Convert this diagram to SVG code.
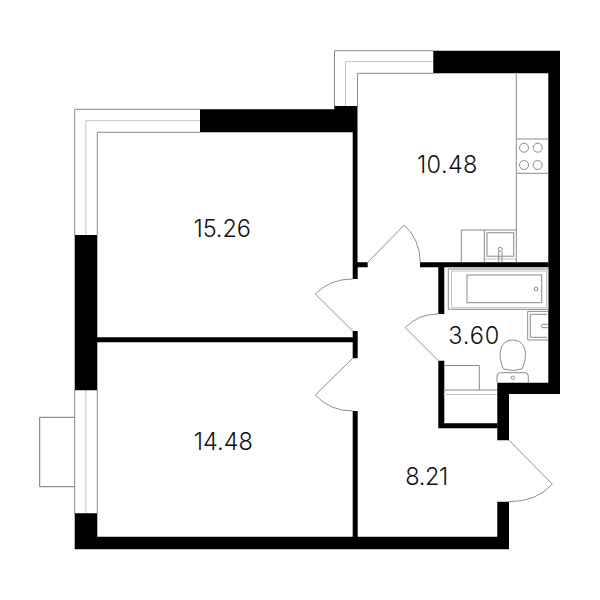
<svg xmlns="http://www.w3.org/2000/svg" width="600" height="600" viewBox="0 0 600 600">
<style>
.w{fill:#000;stroke:none}
.g{fill:none;stroke:#8a8a8a;stroke-width:1}
.d{fill:none;stroke:#8f8f8f;stroke-width:1}
.l{fill:none;stroke:#c4c4c4;stroke-width:1}
text{font-family:"Inter","Liberation Sans",sans-serif;font-size:23.5px;font-weight:300;fill:#111;text-anchor:middle}
</style>
<rect width="600" height="600" fill="#fff"/>
<g id="windows">
<path class="g" d="M334.5 106V50.7H433.5M357.5 106V73.3H433.5"/>
<path class="l" d="M345.5 106V61.7H433.5"/>
<path class="g" d="M74.7 235V109.3H200M97.3 235V132.3H200"/>
<path class="l" d="M85.9 235V120.7H200"/>
<path class="g" d="M74.7 390V513.5M97.3 390V513.5"/>
<path class="l" d="M85.9 390V513.5"/>
</g>
<g id="balcony"><path fill="none" stroke="#777" stroke-width="1" d="M74.7 417.3H39.7V486.7H74.7"/></g>
<g id="walls">
<path class="w" d="M433.3 50.7H560V394H509V440.3H497.3V382.7H548.3V73.3H433.3Z"/>
<path class="w" d="M200 109.3H334.3V106H357.5V262.3H367.7V267.3H357.7V279H352.7V132.3H200Z"/>
<path class="w" d="M420 262.3H548.5V267.3H444.3V314H438.3V267.3H420Z"/>
<path class="w" d="M438.3 360.7H444.3V423.3H497.5V428.3H438.3Z"/>
<path class="w" d="M74.7 235H97.3V390.3H74.7Z"/>
<path class="w" d="M97 337.3H352.7V331H357.7V358.3H352.7V342.3H97Z"/>
<path class="w" d="M352.7 411H357.7V536.7H497.3V501.7H509V549.3H74.7V513.3H97.3V536.7H352.7Z"/>
</g>
<g id="doors">
<path class="d" d="M368 262L404.3 225Q420 240 420.3 262.3"/>
<path class="d" d="M352.7 331L315.3 294Q330 279 352.7 279"/>
<path class="d" d="M352.7 358.3L315.3 395Q330 411 352.7 411"/>
<path class="d" d="M438.3 360.7L405.3 327.7Q418 314 438.3 314"/>
<path class="d" d="M509 440.3L552.3 484Q537 501.7 509 501.7"/>
</g>
<g id="kitchen">
<path class="g" d="M516.3 73.3V262M516.3 139H548.3M516.3 173.3H548.3"/>
<circle class="g" cx="524" cy="147.7" r="4.5"/><circle class="g" cx="537.7" cy="147.7" r="4.5"/>
<circle class="g" cx="524" cy="165" r="4.5"/><circle class="g" cx="537.7" cy="165" r="4.5"/>
<path class="g" d="M461.3 262V230H516.3M484.3 230V262"/>
<rect class="g" x="487" y="232.700" width="26.700" height="23.500"/>
<path class="l" d="M484.3 259H516.3"/>
<path class="g" d="M498.7 251.500V262M502 251.500V262"/>
<circle class="g" cx="500.3" cy="249.3" r="2"/>
</g>
<g id="bathroom">
<rect class="g" x="448.3" y="269" width="100" height="40.300"/>
<rect class="l" x="451.500" y="271" width="95" height="36.700"/>
<rect class="g" x="467" y="275" width="74.700" height="27.700"/>
<circle class="g" cx="536" cy="289" r="1.8"/>
<path class="g" d="M548 311.3H527.7V340H548"/>
<path class="g" d="M547 314.3H530.3V337.3H547"/>
<path class="g" d="M548 324.3H542Q541 326 542 327.7H548"/>
<path class="g" d="M503.5 369C498 358 498 340 512.7 340C527.5 340 527.5 358 522 369Q512.7 372 503.5 369Z"/>
<path class="g" d="M497 382.7V376Q497 372.7 500.5 372.7H525Q528.3 372.7 528.3 376V382.7"/>
<circle class="g" cx="512.7" cy="377.7" r="1.6"/>
<path class="g" d="M479.3 390V365.500H444.3"/>
<path class="g" d="M443.500 390H497"/>
<path class="l" d="M443.500 394.500H497"/>
</g>
<g id="labels">
<text x="447.200" y="172.500" textLength="60.500">10.48</text>
<text x="222.200" y="237" textLength="57.500">15.26</text>
<text x="473.700" y="343.500" textLength="51">3.60</text>
<text x="223.300" y="450" textLength="59">14.48</text>
<text x="426.700" y="485" textLength="43">8.21</text>
</g>
</svg>
